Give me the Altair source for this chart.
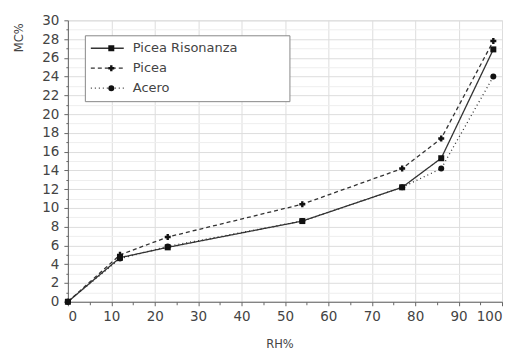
import altair as alt
import pandas as pd

series_names = ["Picea Risonanza", "Picea", "Acero"]
rh = [0, 12, 23, 54, 77, 86, 98]
mc_risonanza = [0, 4.7, 5.8, 8.6, 12.2, 15.3, 26.9]
mc_picea = [0, 5.0, 6.9, 10.4, 14.2, 17.4, 27.8]
mc_acero = [0, 4.6, 5.9, 8.6, 12.2, 14.2, 24.0]

rows = []
for name, vals in zip(series_names, [mc_risonanza, mc_picea, mc_acero]):
    for x, y in zip(rh, vals):
        rows.append({"series": name, "RH": x, "MC": y})
df = pd.DataFrame(rows)

x_major = list(range(0, 101, 10))
x_minor = list(range(5, 100, 10))
y_major = list(range(0, 31, 2))
y_minor = list(range(1, 30, 2))

FONT = "DejaVu Sans"
LABEL = "#444444"
AXIS = "#666666"

xscale = alt.Scale(domain=[0, 100], nice=False, zero=False)
yscale = alt.Scale(domain=[0, 30], nice=False, zero=False)

x_main = alt.X("RH:Q", scale=xscale, title="RH%",
               axis=alt.Axis(orient="bottom", values=x_major, grid=True, gridColor="#dddddd",
                             domainColor=AXIS, tickColor=AXIS, tickSize=4,
                             labelFont=FONT, labelFontSize=13.5, labelColor=LABEL,
                             labelPadding=4, titleFont=FONT, titleFontSize=11.5,
                             titleFontWeight="normal", titleColor=LABEL,
                             titleX=212, titleY=43, titleBaseline="middle"))
y_main = alt.Y("MC:Q", scale=yscale, title="MC%",
               axis=alt.Axis(orient="left", values=y_major, grid=True, gridColor="#dddddd",
                             domainColor=AXIS, tickColor=AXIS, tickSize=4,
                             labelFont=FONT, labelFontSize=13.5, labelColor=LABEL,
                             labelPadding=5, titleFont=FONT, titleFontSize=11.5,
                             titleFontWeight="normal", titleColor=LABEL,
                             titleAngle=270, titleX=-48, titleY=17,
                             titleBaseline="middle", titleAlign="center"))

dash_scale = alt.Scale(domain=series_names, range=[[1, 0], [4, 3], [1, 3]])
shape_scale = alt.Scale(domain=series_names, range=["square", "cross", "circle"])

lines = alt.Chart(df).mark_line(color="#333333", strokeWidth=1.3).encode(
    x=x_main, y=y_main,
    strokeDash=alt.StrokeDash("series:N", scale=dash_scale, sort=series_names,
        legend=alt.Legend(title=".", titleOrient="right", titleOpacity=0,
                          titleFontSize=10, titlePadding=44,
                          orient="none", legendX=17, legendY=15,
                          symbolType="stroke", symbolStrokeColor="#333333",
                          symbolStrokeWidth=1.3, symbolSize=1089, clipHeight=16,
                          labelFont=FONT, labelFontSize=13, labelColor=LABEL,
                          strokeColor="#888888", padding=5, rowPadding=4,
                          labelOffset=8, fillColor="white")),
)

points = alt.Chart(df).mark_point(filled=True, color="#111111", size=36, opacity=1).encode(
    x=alt.X("RH:Q", scale=xscale, axis=None), y=alt.Y("MC:Q", scale=yscale, axis=None),
    shape=alt.Shape("series:N", scale=shape_scale, sort=series_names,
        legend=alt.Legend(title=None, orient="none", legendX=32, legendY=15,
                          symbolFillColor="#111111", symbolStrokeWidth=0,
                          symbolSize=36, labelExpr="''", labelOpacity=0, clipHeight=16,
                          labelFont=FONT, labelFontSize=13,
                          padding=5, rowPadding=4)),
)

minor = alt.Chart(df).mark_point(opacity=0).encode(
    x=alt.X("RH:Q", scale=xscale, axis=alt.Axis(values=x_minor, orient="bottom",
        grid=False, labels=False, domain=False, tickColor=AXIS, tickSize=3, title=None)),
    y=alt.Y("MC:Q", scale=yscale, axis=alt.Axis(values=y_minor, orient="left",
        grid=True, gridColor="#eeeeee", labels=False, domain=False,
        tickColor=AXIS, tickSize=2, title=None)),
)

chart = alt.layer(minor, lines, points).resolve_axis(
    x="independent", y="independent"
).resolve_legend(strokeDash="independent", shape="independent").properties(
    width=435, height=282,
    padding={"left": 60, "top": 12, "right": 5, "bottom": 50},
    autosize=alt.AutoSizeParams(type="none"),
).configure_view(stroke=None).configure(background="white")

chart.save("out.html", embed_options={"renderer": "svg", "actions": False})
